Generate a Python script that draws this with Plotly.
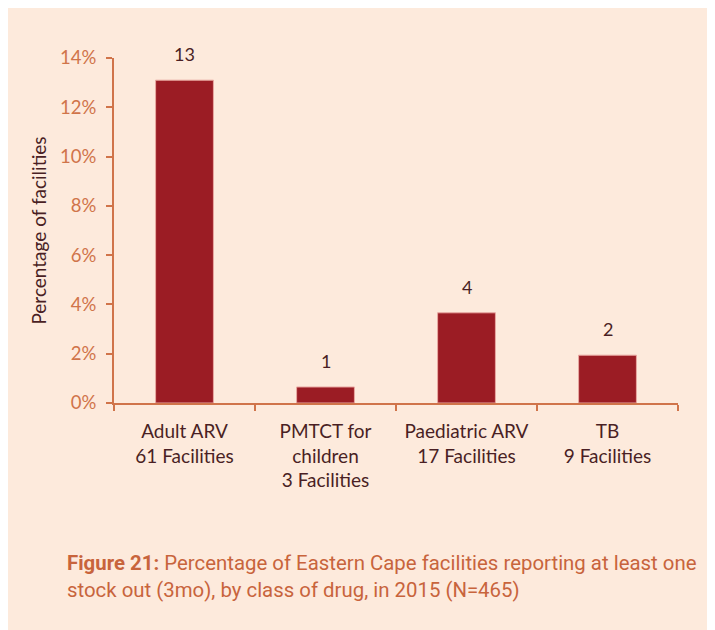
import plotly.graph_objects as go

# stock-out share by drug class
categories = ["Adult ARV<br>61 Facilities", "PMTCT for<br>children<br>3 Facilities",
              "Paediatric ARV<br>17 Facilities", "TB<br>9 Facilities"]
percent = [13.1, 0.65, 3.66, 1.94]
bar_labels = ["13", "1", "4", "2"]
y_ticks = [0, 2, 4, 6, 8, 10, 12, 14]
y_ticktext = [f"{v}%" for v in y_ticks]

# page body adds an 8px offset, so margins are measured from there
W, H = 715, 630
ml, mr, mt, mb = 106, 45, 50, 235
pw, ph = W - ml - mr, H - mt - mb

orange = "#D0744A"
dark = "#4A1F24"
peach = "#FDEADC"

fig = go.Figure()
fig.add_trace(go.Bar(x=categories, y=percent,
                     marker=dict(color="#9B1C24", line=dict(color="#E9A9A2", width=1)),
                     width=0.41, hoverinfo="skip"))

for c, v, t in zip(categories, percent, bar_labels):
    fig.add_annotation(x=c, y=v, text=t, showarrow=False, yanchor="bottom", yshift=13,
                       font=dict(family="Lato", size=18, color=dark))

# caption
fig.add_annotation(xref="paper", yref="paper", x=(57 - ml) / pw, y=1 - (541 - mt) / ph,
                   xanchor="left", yanchor="top", align="left", showarrow=False,
                   text="<b>Figure 21:</b> Percentage of Eastern Cape facilities reporting at least one<br>"
                        "stock out (3mo), by class of drug, in 2015 (N=465)",
                   font=dict(family="Roboto", size=20.4, color="#C8643C"))

fig.update_layout(
    width=W, height=H,
    margin=dict(l=ml, r=mr, t=mt, b=mb),
    paper_bgcolor=peach, plot_bgcolor=peach,
    showlegend=False,
    font=dict(family="Lato", color=dark),
)
fig.update_xaxes(showline=True, linecolor=orange, linewidth=2, ticks="outside",
                 tickson="boundaries", tickcolor=orange, ticklen=6, tickwidth=2,
                 ticklabelstandoff=10,
                 tickfont=dict(family="Lato", size=19, color=dark), showgrid=False)
fig.update_yaxes(range=[0, 14], tickvals=y_ticks, ticktext=y_ticktext,
                 showline=True, linecolor=orange, linewidth=2, ticks="outside",
                 tickcolor=orange, ticklen=6, tickwidth=2, showgrid=False, zeroline=False,
                 ticklabelstandoff=6,
                 tickfont=dict(family="Lato", size=18.5, color=orange),
                 title=dict(text="Percentage of facilities", standoff=8,
                            font=dict(family="Lato", size=19, color=dark)))

fig.write_html("out.html")
